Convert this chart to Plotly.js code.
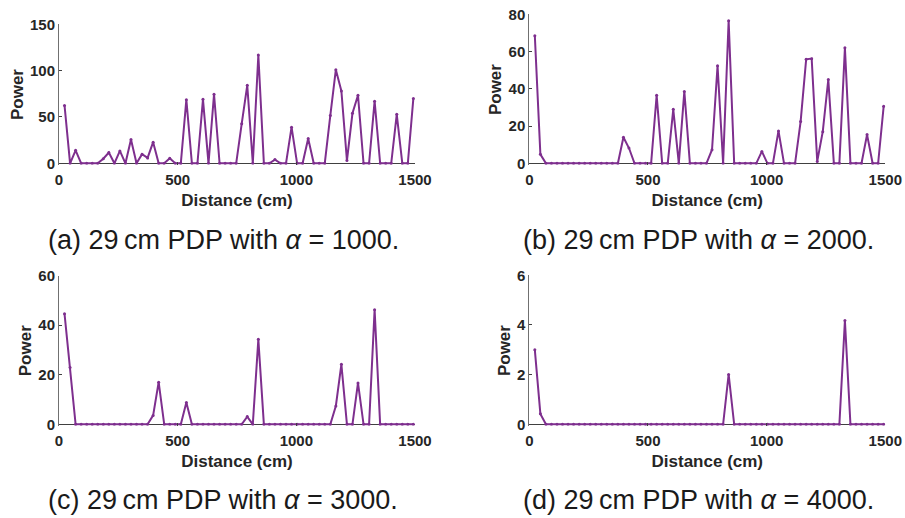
<!DOCTYPE html>
<html>
<head>
<meta charset="utf-8">
<script src="https://cdn.plot.ly/plotly-3.0.1.min.js"></script>
<style>html,body{margin:0;padding:0;background:#fff;}#chart{width:905px;height:518px;}</style>
</head>
<body>
<div id="chart"></div>
<script>
// ---- data ----
const distance = [23.3, 46.7, 70.0, 93.3, 116.7, 140.0, 163.3, 186.6, 210.0, 233.3, 256.6, 280.0, 303.3, 326.6, 350.0, 373.3,
  396.6, 419.9, 443.3, 466.6, 489.9, 513.3, 536.6, 559.9, 583.3, 606.6, 629.9, 653.2, 676.6, 699.9, 723.2, 746.6,
  769.9, 793.2, 816.6, 839.9, 863.2, 886.5, 909.9, 933.2, 956.5, 979.9, 1003.2, 1026.5, 1049.9, 1073.2, 1096.5, 1119.8,
  1143.2, 1166.5, 1189.8, 1213.2, 1236.5, 1259.8, 1283.2, 1306.5, 1329.8, 1353.1, 1376.5, 1399.8, 1423.1, 1446.5, 1469.8, 1493.1];

const powerA = [62.5, 0, 14, 0, 0, 0, 0, 5, 11.6, 0, 13.4, 0, 25.7, 0, 9.8, 5.8,
  22.8, 0, 0, 5.4, 0, 0, 68.7, 0, 0, 69, 0, 74.5, 0, 0, 0, 0,
  42.7, 84.2, 0, 116.8, 0, 0, 4, 0, 0, 39, 0, 0, 26.8, 0, 0, 0,
  51.7, 101, 78, 3, 54, 73.4, 0, 0, 67, 0, 0, 0, 52.8, 0, 0, 70];

const powerB = [68.5, 4.8, 0, 0, 0, 0, 0, 0, 0, 0, 0, 0, 0, 0, 0, 0,
  14, 8.2, 0, 0, 0, 0, 36.5, 0, 0, 29, 0, 38.6, 0, 0, 0, 0,
  7.3, 52.4, 0, 76.6, 0, 0, 0, 0, 0, 6.4, 0, 0, 17.4, 0, 0, 0,
  22.4, 55.8, 56.2, 1, 17, 45, 0, 0, 62, 0, 0, 0, 15.4, 0, 0, 30.6];

const powerC = [44.6, 22.9, 0, 0, 0, 0, 0, 0, 0, 0, 0, 0, 0, 0, 0, 0,
  3.6, 17, 0, 0, 0, 0, 8.8, 0, 0, 0, 0, 0, 0, 0, 0, 0,
  0, 3.1, 0, 34.3, 0, 0, 0, 0, 0, 0, 0, 0, 0, 0, 0, 0,
  0, 7.4, 24.2, 0, 0, 16.7, 0, 0, 46.3, 0, 0, 0, 0, 0, 0, 0];

const powerD = [3.0, 0.42, 0, 0, 0, 0, 0, 0, 0, 0, 0, 0, 0, 0, 0, 0,
  0, 0, 0, 0, 0, 0, 0, 0, 0, 0, 0, 0, 0, 0, 0, 0,
  0, 0, 0, 2.01, 0, 0, 0, 0, 0, 0, 0, 0, 0, 0, 0, 0,
  0, 0, 0, 0, 0, 0, 0, 0, 4.18, 0, 0, 0, 0, 0, 0, 0];

const xTicks = [0, 500, 1000, 1500];
const yMaxes = [150, 80, 60, 6];
const yTicksA = [0, 50, 100, 150];
const yTicksB = [0, 20, 40, 60, 80];
const yTicksC = [0, 20, 40, 60];
const yTicksD = [0, 2, 4, 6];
const captions = [
  '(a) 29\u2009cm PDP with <i>\u03b1</i> = 1000.',
  '(b) 29\u2009cm PDP with <i>\u03b1</i> = 2000.',
  '(c) 29\u2009cm PDP with <i>\u03b1</i> = 3000.',
  '(d) 29\u2009cm PDP with <i>\u03b1</i> = 4000.'
];
const xTitle = 'Distance (cm)';
const yTitle = 'Power';

// ---- layout geometry (pixels) ----
const W = 905, H = 518;
const panels = [
  {left: 59, right: 415, top: 24.3, zero: 163.3, ys: powerA, yt: yTicksA, cx: 223, cy: 240},
  {left: 529.3, right: 885.3, top: 14.3, zero: 163.3, ys: powerB, yt: yTicksB, cx: 698, cy: 240},
  {left: 59, right: 415, top: 275.7, zero: 424.3, ys: powerC, yt: yTicksC, cx: 223, cy: 500},
  {left: 529.3, right: 885.3, top: 275.3, zero: 424.3, ys: powerD, yt: yTicksD, cx: 698, cy: 500}
];
const lineColor = '#7E2F8E';
const axisColor = '#404040';
const tickFont = {family: 'Liberation Sans, Arial, sans-serif', size: 15, color: '#262626', weight: 'bold'};
const titleFont = {family: 'Liberation Sans, Arial, sans-serif', size: 17, color: '#262626', weight: 'bold'};

const data = [];
const layout = {
  width: W, height: H,
  margin: {l: 0, r: 0, t: 0, b: 0},
  paper_bgcolor: '#fff', plot_bgcolor: 'rgba(0,0,0,0)',
  showlegend: false,
  annotations: []
};

panels.forEach((p, i) => {
  const n = i === 0 ? '' : String(i + 1);
  const M = yMaxes[i];
  const pxPer = (p.zero - p.top) / M;
  const pad = 1.5;
  const yMin = -pad / pxPer;
  data.push({
    type: 'scatter', mode: 'lines+markers',
    x: distance, y: p.ys,
    xaxis: 'x' + n, yaxis: 'y' + n,
    line: {color: lineColor, width: 2},
    marker: {color: lineColor, size: 3},
    hoverinfo: 'x+y'
  });
  layout['xaxis' + n] = {
    domain: [p.left / W, p.right / W],
    anchor: 'y' + n,
    range: [0, 1500],
    tickvals: xTicks, ticktext: xTicks.map(String),
    ticks: 'inside', ticklen: 3, tickcolor: axisColor,
    ticklabelstandoff: 4,
    showline: false, showgrid: false, zeroline: false,
    tickfont: tickFont,
    title: {text: xTitle, font: titleFont, standoff: 7},
    automargin: false
  };
  layout['yaxis' + n] = {
    domain: [1 - (p.zero + pad) / H, 1 - p.top / H],
    anchor: 'x' + n,
    range: [yMin, M],
    tickvals: p.yt, ticktext: p.yt.map(String),
    ticks: 'inside', ticklen: 3, tickcolor: axisColor,
    showline: true, linecolor: '#707070', linewidth: 1,
    showgrid: false, zeroline: true, zerolinecolor: axisColor, zerolinewidth: 1,
    tickfont: tickFont,
    title: {text: yTitle, font: titleFont, standoff: 2},
    automargin: false
  };
  layout.annotations.push({
    xref: 'paper', yref: 'paper',
    x: p.cx / W, y: 1 - p.cy / H,
    xanchor: 'center', yanchor: 'middle',
    text: captions[i], showarrow: false,
    font: {family: 'Liberation Sans, Arial, sans-serif', size: 27, color: '#1a1a1a'}
  });
});

Plotly.newPlot('chart', data, layout, {displayModeBar: false, staticPlot: true});
</script>
</body>
</html>
